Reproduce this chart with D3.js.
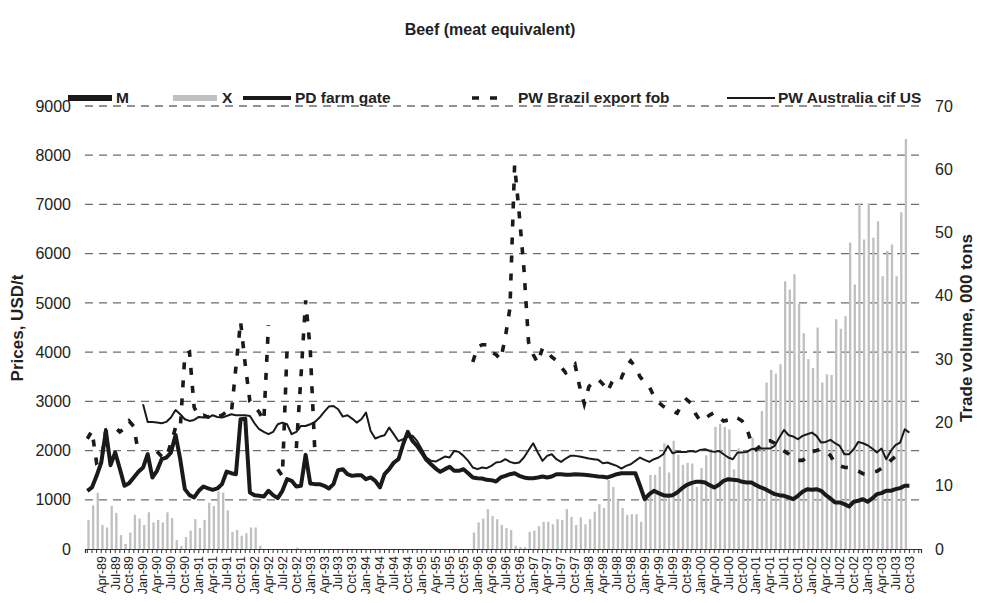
<!DOCTYPE html>
<html>
<head>
<meta charset="utf-8">
<script src="https://cdn.jsdelivr.net/npm/d3@7"></script>
<style>
  body { margin: 0; background: #ffffff; }
  svg text { font-family: "Liberation Sans", Arial, Helvetica, sans-serif; fill: #222; }
</style>
</head>
<body>
<svg id="chart" width="981" height="603"></svg>
<script>
// Monthly categories, Jan-89 .. Dec-03
const monthNames = ["Jan","Feb","Mar","Apr","May","Jun","Jul","Aug","Sep","Oct","Nov","Dec"];
const years = ["89","90","91","92","93","94","95","96","97","98","99","00","01","02","03"];
const months = years.flatMap(y => monthNames.map(m => m + "-" + y));
// every third month carries a label, starting Apr-89
const tickLabels = months.filter((m, i) => i > 0 && i % 3 === 0);

// Trade volume, 000 tons (right axis)
const importsM = [
  0,0,0,0,0,0,0,0,0,0,0,0,
  0,0,0,0,0,0,0,0,0,0,0,0,
  0,0,0,0,0,0,0,0,0,0,0,0,
  0,0,0,0,0,0,0,0,0,0,0,0,
  0,0,0,0,0,0,0,0,0,0,0,0,
  0,0,0,0,0,0,0,0,0,0,0,0,
  0,0,0,0,0,0,0,0,0,0,0,0,
  0,0,0,0,0,0,0,0,0,0,0,0,
  0,0,0,0,0,0,0,0,0,0,0,0,
  0,0,0,0,0,0,0,0,0,0,0,0,
  0,0,0,0,0,0,0,0,0,0,0,0,
  0,0,0,0,0,0,0,0,0,0,0,0,
  0,0,0,0,0,0,0,0,0,0,0,0,
  0,0,0,0,0,0,0,0,0,0,0,0,
  0,0,0,0,0,0,0,0,0,null,null,null
];
const exportsX = [
  4.6, 6.9, 8.9, 3.8, 3.4, 6.8, 5.7, 2.2, 0.8, 2.6, 5.4, 4.8,
  3.8, 5.8, 4.2, 4.6, 4.2, 5.8, 4.9, 1.4, 0.5, 1.9, 2.9, 4.7,
  3.3, 4.6, 7.3, 6.8, 9.1, 8.9, 6.1, 2.7, 3.0, 2.1, 2.5, 3.4,
  3.4, 0.5, null, null, null, null, null, null, null, 0.2, null, null,
  null, null, null, null, null, null, null, null, null, null, null, null,
  null, null, null, null, null, null, null, null, null, null, null, null,
  null, null, null, null, null, null, null, null, null, null, null, 2.6,
  4.2, 4.8, 6.3, 5.2, 4.7, 3.8, 3.3, 3.0, 0.5, 0.3, 0.3, 2.7,
  2.9, 3.6, 4.3, 4.3, 3.9, 4.7, 4.6, 6.3, 5.1, 3.8, 5.0, 3.9,
  4.7, 5.9, 7.1, 6.5, 10.9, 9.8, 7.7, 6.5, 5.4, 5.5, 5.5, 4.3,
  7.6, 11.7, 11.7, 13.0, 16.7, 12.1, 17.1, 14.9, 13.3, 13.6, 13.5, 9.8,
  12.8, 14.8, 15.8, 19.3, 19.8, 19.3, 18.9, 12.6, 15.9, 15.0, 15.5, 17.6,
  16.0, 21.8, 26.3, 28.3, 27.7, 29.2, 42.3, 41.0, 43.4, 38.8, 34.1, 30.0,
  28.6, 35.0, 26.3, 27.6, 27.5, 36.3, 34.8, 36.8, 48.4, 41.8, 54.6, 48.9,
  54.6, 49.2, 51.8, 43.1, 47.1, 48.1, 43.1, 53.2, 64.8, null, null, null
];

// Prices, USD/t (left axis)
const pdFarmGate = [
  1182, 1250, 1486, 1757, 2399, 1703, 1960, 1630, 1284, 1338, 1453, 1568,
  1655, 1926, 1453, 1588, 1824, 1858, 1960, 2318, 1824, 1216, 1094, 1047,
  1182, 1270, 1230, 1202, 1230, 1318, 1574, 1540, 1520, 2636, 2649, 1148,
  1094, 1081, 1067, 1182, 1094, 1033, 1182, 1419, 1385, 1270, 1284, 1912,
  1331, 1318, 1318, 1284, 1230, 1318, 1601, 1622, 1520, 1486, 1500, 1500,
  1419, 1453, 1385, 1250, 1520, 1622, 1757, 1824, 2128, 2379, 2196, 2095,
  1960, 1811, 1723, 1635, 1568, 1622, 1669, 1588, 1588, 1622, 1540, 1453,
  1439, 1432, 1405, 1399, 1372, 1453, 1486, 1520, 1540, 1486, 1453, 1439,
  1439, 1453, 1473, 1453, 1473, 1520, 1520, 1507, 1507, 1520, 1514, 1507,
  1500, 1486, 1473, 1466, 1453, 1486, 1520, 1540, 1540, 1540, 1540, 1284,
  1013, 1115, 1182, 1135, 1094, 1081, 1094, 1148, 1230, 1297, 1338, 1365,
  1365, 1351, 1297, 1250, 1304, 1385, 1419, 1405, 1399, 1365, 1351, 1351,
  1297, 1250, 1216, 1162, 1115, 1094, 1081, 1047, 1013, 1081, 1162, 1216,
  1203, 1216, 1182, 1094, 1027, 946, 946, 912, 864, 959, 980, 1013,
  959, 1027, 1115, 1135, 1182, 1182, 1216, 1237, 1284, 1284, null, null
];
const pwBrazil = [
  2240, 2400, 1750, 1800, 2420, 2450, 2470, 2380, 2450, 2600, 2490, 1950,
  null, null, null, 1980, 1880, 1850, 2150, 2470, 2440, 3950, 4000, 2880,
  2700, 2720, 2680, 2740, 2690, 2720, 2790, 2750, 3700, 4620, 3750, 3000,
  2900, 2780, 2600, 4550, null, 1620, 1480, 4050, null, 2050, 3500, 5050,
  4050, 1950, null, null, null, null, null, null, null, null, null, null,
  null, null, null, null, null, null, null, null, null, null, null, null,
  null, null, null, null, null, null, null, null, null, null, null, 3800,
  4100, 4150, 4150, 4000, 3950, 3850, 4300, 4900, 7800, 6800, 5700, 4200,
  3950, 3780, 4080, 4020, 3900, 3830, 3700, 3580, 3650, 3750, 3300, 2950,
  3300, 3400, 3450, 3350, 3200, 3400, 3520, 3480, 3700, 3820, 3700, 3500,
  3380, 3300, 3100, 2980, 2900, 2850, 2800, 2760, 2950, 3040, 2960, 2740,
  2600, 2650, 2720, 2770, 2670, 2600, 2620, 2690, 2660, 2600, 2450, 2150,
  2020, 2100, 2200, 2200, 2150, 2050, 1990, 1930, 1850, 1800, 1800, 1870,
  1980, 2000, 2030, 1990, 1900, 1740, 1690, 1660, 1650, 1620, 1580, 1530,
  1520, 1560, 1580, 1640, 1700, 1800, 1880, 1990, null, null, null, null
];
const pwAustralia = [
  null, null, null, null, null, null, null, null, null, null, null, null,
  2940, 2582, 2582, 2568, 2554, 2582, 2670, 2825, 2737, 2636, 2602, 2622,
  2683, 2670, 2670, 2717, 2683, 2670, 2703, 2737, 2717, 2717, 2717, 2703,
  2554, 2433, 2379, 2332, 2379, 2534, 2568, 2534, 2332, 2379, 2500, 2500,
  2534, 2582, 2670, 2784, 2893, 2906, 2839, 2690, 2717, 2649, 2568, 2636,
  2771, 2399, 2244, 2284, 2311, 2467, 2330, 2190, 2230, 2280, 2300, 2196,
  2027, 1858, 1791, 1777, 1824, 1878, 1858, 1993, 1973, 1892, 1791, 1655,
  1622, 1655, 1642, 1689, 1757, 1770, 1824, 1770, 1743, 1757, 1858, 2007,
  2149, 1960, 1791, 1892, 1926, 1824, 1770, 1838, 1892, 1892, 1878, 1858,
  1838, 1824, 1811, 1743, 1757, 1723, 1689, 1635, 1689, 1723, 1791, 1858,
  1811, 1770, 1824, 1858, 1926, 2095, 1946, 1973, 1973, 1973, 1993, 1973,
  2014, 2027, 1993, 1973, 1993, 1926, 1858, 1824, 1960, 1960, 1973, 2027,
  2041, 2041, 2041, 2041, 2095, 2264, 2419, 2311, 2284, 2230, 2298, 2332,
  2365, 2298, 2162, 2176, 2217, 2149, 2095, 1926, 1926, 2027, 2176, 2149,
  2108, 2041, 1960, 2041, 1824, 1993, 2108, 2162, 2433, 2365, null, null
];
const priceTicks = [0, 1000, 2000, 3000, 4000, 5000, 6000, 7000, 8000, 9000];
const volumeTicks = [0, 10, 20, 30, 40, 50, 60, 70];

const svg = d3.select("#chart");
const plotLeft = 85, plotRight = 921, plotTop = 106, plotBottom = 549;
const ink = "#1a1a1a";
const brazilDash = "7,11";

const x = d3.scaleBand().domain(months).range([plotLeft, plotRight]).padding(0);
const xSub = d3.scaleBand().domain(["M", "X"]).range([0, x.bandwidth()]).padding(0);
const yPrice = d3.scaleLinear().domain([0, 9000]).range([plotBottom, plotTop]);
const yVol = d3.scaleLinear().domain([0, 70]).range([plotBottom, plotTop]);

// horizontal dashed grid on the price scale
svg.append("g")
  .selectAll("line")
  .data(priceTicks.filter(v => v > 0))
  .join("line")
  .attr("x1", plotLeft).attr("x2", plotRight)
  .attr("y1", d => yPrice(d)).attr("y2", d => yPrice(d))
  .attr("stroke", "#6e6e6e").attr("stroke-width", 1.3)
  .attr("stroke-dasharray", "8,6");

// trade volume columns
const barRows = months.map((m, i) => ({ m, M: importsM[i], X: exportsX[i] }));
svg.append("g")
  .selectAll("g")
  .data(barRows)
  .join("g")
  .attr("transform", d => `translate(${x(d.m)},0)`)
  .selectAll("rect")
  .data(d => ["M", "X"].map(k => ({ k, v: d[k] })).filter(e => e.v != null && e.v > 0))
  .join("rect")
  .attr("x", e => xSub(e.k))
  .attr("width", xSub.bandwidth())
  .attr("y", e => yVol(e.v))
  .attr("height", e => yVol(0) - yVol(e.v))
  .attr("fill", e => e.k === "M" ? ink : "#c0c0c0");

// price lines
const cx = i => x(months[i]) + x.bandwidth() / 2;
const priceLine = d3.line()
  .defined(d => d != null)
  .x((d, i) => cx(i))
  .y(d => yPrice(d));

svg.append("path").datum(pdFarmGate)
  .attr("d", priceLine).attr("fill", "none")
  .attr("stroke", ink).attr("stroke-width", 4).attr("stroke-linejoin", "round");
svg.append("path").datum(pwBrazil)
  .attr("d", priceLine).attr("fill", "none")
  .attr("stroke", ink).attr("stroke-width", 3.6).attr("stroke-dasharray", brazilDash);
svg.append("path").datum(pwAustralia)
  .attr("d", priceLine).attr("fill", "none")
  .attr("stroke", ink).attr("stroke-width", 2).attr("stroke-linejoin", "round");

// category axis
const xAxis = d3.axisBottom(x)
  .tickValues(months)
  .tickSize(4)
  .tickFormat(m => tickLabels.includes(m) ? m : "");
const gx = svg.append("g").attr("transform", `translate(0,${plotBottom})`).call(xAxis);
gx.select(".domain").attr("stroke", "#333").attr("stroke-width", 1.2);
gx.selectAll(".tick line").attr("stroke", "#333");
gx.selectAll(".tick text")
  .attr("transform", "rotate(-90)")
  .attr("text-anchor", "end")
  .attr("x", -7).attr("y", 0).attr("dy", "0.35em")
  .style("font-size", "12.5px");

// left price axis
const gy = svg.append("g").attr("transform", `translate(${plotLeft},0)`)
  .call(d3.axisLeft(yPrice).tickValues(priceTicks).tickFormat(d3.format("d")).tickSize(0).tickPadding(14));
gy.select(".domain").remove();
gy.selectAll("text").style("font-size", "16px");

// right volume axis
const gr = svg.append("g").attr("transform", `translate(${plotRight},0)`)
  .call(d3.axisRight(yVol).tickValues(volumeTicks).tickSize(0).tickPadding(14));
gr.select(".domain").remove();
gr.selectAll("text").style("font-size", "16px");

// titles
svg.append("text").attr("x", 490).attr("y", 35).attr("text-anchor", "middle")
  .style("font-size", "16px").style("font-weight", "bold").text("Beef (meat equivalent)");
svg.append("text").attr("transform", "translate(23,328) rotate(-90)").attr("text-anchor", "middle")
  .style("font-size", "17px").style("font-weight", "bold").text("Prices, USD/t");
svg.append("text").attr("transform", "translate(972,328) rotate(-90)").attr("text-anchor", "middle")
  .style("font-size", "17px").style("font-weight", "bold").text("Trade volume, 000 tons");

// legend
const legendY = 98;
const legend = svg.append("g");
const items = [
  { label: "M", kind: "rect", color: ink, x0: 68, x1: 112, tx: 116 },
  { label: "X", kind: "rect", color: "#c0c0c0", x0: 173, x1: 217, tx: 222 },
  { label: "PD farm gate", kind: "line", w: 4, x0: 243, x1: 291, tx: 295 },
  { label: "PW Brazil export fob", kind: "dash", w: 3.6, x0: 472, x1: 508, tx: 518 },
  { label: "PW Australia cif US", kind: "line", w: 2, x0: 727, x1: 775, tx: 778 }
];
items.forEach(it => {
  if (it.kind === "rect") {
    legend.append("rect").attr("x", it.x0).attr("y", legendY - 3).attr("width", it.x1 - it.x0).attr("height", 6).attr("fill", it.color);
  } else {
    legend.append("line").attr("x1", it.x0).attr("x2", it.x1).attr("y1", legendY).attr("y2", legendY)
      .attr("stroke", ink).attr("stroke-width", it.w)
      .attr("stroke-dasharray", it.kind === "dash" ? brazilDash : null);
  }
  legend.append("text").attr("x", it.tx).attr("y", legendY).attr("dy", "0.35em")
    .style("font-size", "15.5px").style("font-weight", "bold").text(it.label);
});
</script>
</body>
</html>
